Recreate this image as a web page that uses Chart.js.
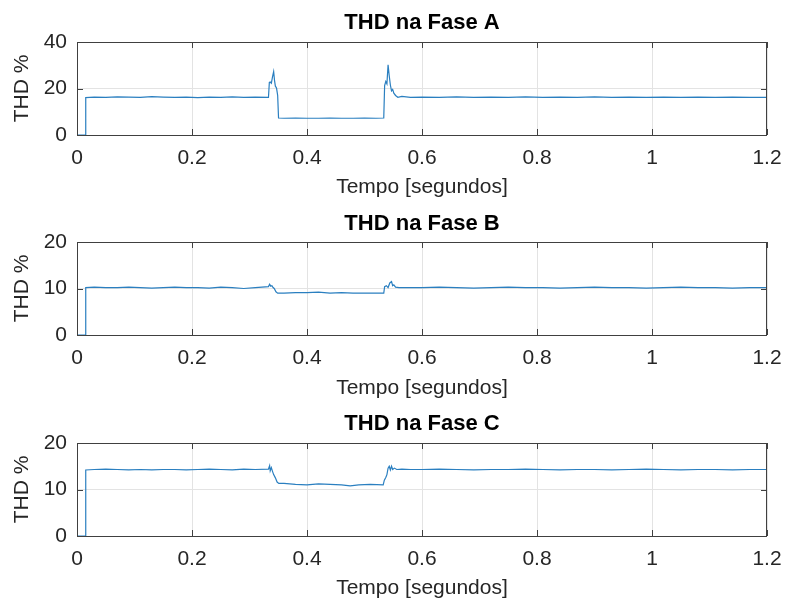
<!DOCTYPE html>
<html>
<head>
<meta charset="utf-8">
<script src="https://cdn.jsdelivr.net/npm/chart.js@4"></script>
<style>
    html, body { margin: 0; padding: 0; background: #fff; }
    #wrap { position: relative; width: 785px; height: 602px; }
    #wrap canvas { position: absolute; left: 0; }
</style>
</head>
<body>
<div id="wrap">
    <canvas id="chartA" width="785" height="201" style="top:0"></canvas>
    <canvas id="chartB" width="785" height="201" style="top:201px"></canvas>
    <canvas id="chartC" width="785" height="200" style="top:402px"></canvas>
</div>
<script>
'use strict';

// ============================================================
// Data
// ============================================================
const xTicks = [0, 0.2, 0.4, 0.6, 0.8, 1, 1.2];

const timeA = [
    0, 0.015, 0.0152,
    0.03, 0.05, 0.07, 0.09, 0.11, 0.13, 0.15, 0.17, 0.19, 0.21, 0.23, 0.25, 0.27, 0.29, 0.31,
    0.333, 0.3345, 0.336, 0.338, 0.34, 0.342, 0.3435, 0.345, 0.347, 0.349, 0.3505,
    0.36, 0.38, 0.40, 0.42, 0.44, 0.46, 0.48, 0.50, 0.52, 0.5335,
    0.535, 0.537, 0.539, 0.541, 0.543, 0.545, 0.547, 0.549, 0.551, 0.554, 0.558, 0.565, 0.58,
    0.60, 0.63, 0.66, 0.69, 0.72, 0.75, 0.78, 0.81, 0.84, 0.87, 0.90, 0.93, 0.96, 0.99, 1.02, 1.05, 1.08, 1.11, 1.14, 1.17, 1.2
];
const thdA = [
    0, 0, 16.1,
    16.3, 16.2, 16.4, 16.3, 16.2, 16.5, 16.3, 16.2, 16.3, 16.1, 16.3, 16.2, 16.4, 16.2, 16.3,
    16.2, 22.6, 22.8, 22.3, 25.0, 27.3, 23.5, 21.0, 20.2, 17.0, 7.3,
    7.2, 7.3, 7.2, 7.2, 7.3, 7.2, 7.2, 7.3, 7.2, 7.3,
    21.2, 23.0, 22.0, 30.2, 25.5, 21.5, 19.0, 19.6, 18.0, 17.0, 16.2, 16.6, 16.2,
    16.3, 16.2, 16.4, 16.2, 16.3, 16.2, 16.4, 16.2, 16.3, 16.2, 16.4, 16.2, 16.3, 16.2, 16.3, 16.2, 16.3, 16.2, 16.3, 16.2, 16.2
];

const timeB = [
    0, 0.015, 0.0152,
    0.03, 0.05, 0.07, 0.09, 0.11, 0.13, 0.15, 0.17, 0.19, 0.21, 0.23, 0.25, 0.27, 0.29, 0.31,
    0.333, 0.335, 0.337, 0.339, 0.341, 0.343, 0.346, 0.349,
    0.36, 0.38, 0.40, 0.42, 0.44, 0.46, 0.48, 0.50, 0.52, 0.5335,
    0.535, 0.538, 0.541, 0.544, 0.547, 0.549, 0.551, 0.554, 0.56, 0.58,
    0.60, 0.63, 0.66, 0.69, 0.72, 0.75, 0.78, 0.81, 0.84, 0.87, 0.90, 0.93, 0.96, 0.99, 1.02, 1.05, 1.08, 1.11, 1.14, 1.17, 1.2
];
const thdB = [
    0, 0, 10.2,
    10.3, 10.2, 10.2, 10.3, 10.2, 10.1, 10.2, 10.3, 10.2, 10.2, 10.1, 10.3, 10.2, 10.0, 10.2,
    10.4, 10.9, 10.5, 10.6, 10.2, 10.0, 9.3, 9.0,
    9.0, 9.1, 9.1, 9.2, 9.0, 9.1, 9.0, 9.0, 9.0, 9.0,
    10.4, 10.6, 10.2, 11.2, 11.5, 10.6, 10.8, 10.3, 10.2, 10.2,
    10.2, 10.3, 10.2, 10.1, 10.2, 10.3, 10.2, 10.2, 10.1, 10.2, 10.3, 10.2, 10.2, 10.1, 10.2, 10.3, 10.2, 10.2, 10.1, 10.2, 10.2
];

const timeC = [
    0, 0.015, 0.0152,
    0.03, 0.05, 0.07, 0.09, 0.11, 0.13, 0.15, 0.17, 0.19, 0.21, 0.23, 0.25, 0.27, 0.29, 0.31,
    0.333, 0.335, 0.336, 0.338, 0.340, 0.342, 0.345, 0.348, 0.351,
    0.36, 0.38, 0.40, 0.42, 0.44, 0.46, 0.475, 0.49, 0.51, 0.5325,
    0.5345, 0.537, 0.539, 0.541, 0.543, 0.545, 0.547, 0.549, 0.552, 0.556, 0.565, 0.58,
    0.60, 0.63, 0.66, 0.69, 0.72, 0.75, 0.78, 0.81, 0.84, 0.87, 0.90, 0.93, 0.96, 0.99, 1.02, 1.05, 1.08, 1.11, 1.14, 1.17, 1.2
];
const thdC = [
    0, 0, 14.2,
    14.3, 14.4, 14.3, 14.2, 14.3, 14.2, 14.3, 14.3, 14.2, 14.3, 14.4, 14.3, 14.2, 14.4, 14.3,
    14.4, 15.1, 14.0, 14.7, 13.9, 13.2, 12.5, 11.6, 11.3,
    11.3, 11.1, 11.0, 11.2, 11.1, 11.0, 10.8, 11.0, 11.1, 11.0,
    12.0, 12.6, 13.2, 14.6, 15.0, 14.2, 15.0, 14.3, 14.6, 14.3, 14.4, 14.3,
    14.3, 14.4, 14.3, 14.2, 14.3, 14.3, 14.4, 14.3, 14.2, 14.3, 14.3, 14.2, 14.3, 14.4, 14.3, 14.2, 14.3, 14.3, 14.2, 14.3, 14.3
];

const panels = [
    { id: 'chartA', title: 'THD na Fase A', time: timeA, values: thdA, yMax: 40, yStep: 20, top: 42, bottom: 135, titleY: 23 },
    { id: 'chartB', title: 'THD na Fase B', time: timeB, values: thdB, yMax: 20, yStep: 10, top: 41, bottom: 134, titleY: 23 },
    { id: 'chartC', title: 'THD na Fase C', time: timeC, values: thdC, yMax: 20, yStep: 10, top: 41, bottom: 134, titleY: 22 },
];

// ============================================================
// MATLAB-like axes box with inward tick marks
// ============================================================
const axesBox = {
    id: 'axesBox',
    afterDraw(chart) {
        const { ctx, chartArea: { left, right, top, bottom }, scales: { x, y } } = chart;
        ctx.save();
        ctx.strokeStyle = '#404040';
        ctx.lineWidth = 1;
        ctx.beginPath();
        x.ticks.forEach(t => {
            const px = Math.round(x.getPixelForValue(t.value)) + 0.5;
            ctx.moveTo(px, bottom); ctx.lineTo(px, bottom - 6);
            ctx.moveTo(px, top);    ctx.lineTo(px, top + 6);
        });
        y.ticks.forEach(t => {
            const py = Math.round(y.getPixelForValue(t.value)) + 0.5;
            ctx.moveTo(left, py);  ctx.lineTo(left + 6, py);
            ctx.moveTo(right, py); ctx.lineTo(right - 6, py);
        });
        ctx.stroke();
        ctx.strokeRect(left + 0.5, top + 0.5, right - left - 1, bottom - top);
        ctx.restore();
    }
};

const FONT = "'Liberation Sans', Arial, Helvetica, sans-serif";
const TEXT = '#262626';

function makeChart(p) {
    const canvas = document.getElementById(p.id);
    const H = canvas.height;
    const titleSize = 22, titleLH = titleSize * 1.2;
    const padTop = p.titleY - titleLH / 2;
    const padBottom = p.top - padTop - titleLH;

    new Chart(canvas, {
        type: 'line',
        data: {
            datasets: [{
                data: p.time.map((t, i) => ({ x: t, y: p.values[i] })),
                borderColor: '#2A7FC0',
                borderWidth: 1.2,
                pointRadius: 0,
                tension: 0,
                fill: false,
            }]
        },
        options: {
            responsive: false,
            animation: false,
            devicePixelRatio: 1,
            layout: { padding: { left: 0, right: 18, top: 0, bottom: 0 } },
            plugins: {
                legend: { display: false },
                tooltip: { enabled: false },
                title: {
                    display: true,
                    text: p.title,
                    fullSize: false,
                    color: '#000',
                    font: { family: FONT, size: titleSize, weight: 'bold', lineHeight: 1.2 },
                    padding: { top: padTop, bottom: padBottom },
                }
            },
            scales: {
                x: {
                    type: 'linear',
                    min: 0, max: 1.2,
                    afterBuildTicks: s => { s.ticks = xTicks.map(v => ({ value: v })); },
                    afterFit: s => { s.height = H - p.bottom; s.paddingLeft = 0; s.paddingRight = 0; },
                    grid: { color: '#e3e3e3', drawTicks: false },
                    border: { display: false },
                    ticks: {
                        color: TEXT, padding: 11, maxRotation: 0,
                        font: { family: FONT, size: 21 },
                        callback: v => String(Number(v.toFixed(2)))
                    },
                    title: {
                        display: true,
                        text: 'Tempo [segundos]',
                        color: TEXT,
                        font: { family: FONT, size: 21, lineHeight: 1.2 },
                        padding: { top: 0, bottom: 1 }
                    }
                },
                y: {
                    min: 0, max: p.yMax,
                    afterFit: s => { s.width = 77; s.paddingTop = 0; s.paddingBottom = 0; },
                    grid: { color: '#e3e3e3', drawTicks: false },
                    border: { display: false },
                    ticks: { color: TEXT, padding: 10, stepSize: p.yStep, font: { family: FONT, size: 21 } },
                    title: {
                        display: true,
                        text: 'THD %',
                        color: TEXT,
                        font: { family: FONT, size: 21, lineHeight: 1.2 },
                        padding: { top: 10, bottom: 0 }
                    }
                }
            }
        },
        plugins: [axesBox]
    });
}

panels.forEach(makeChart);
</script>
</body>
</html>
